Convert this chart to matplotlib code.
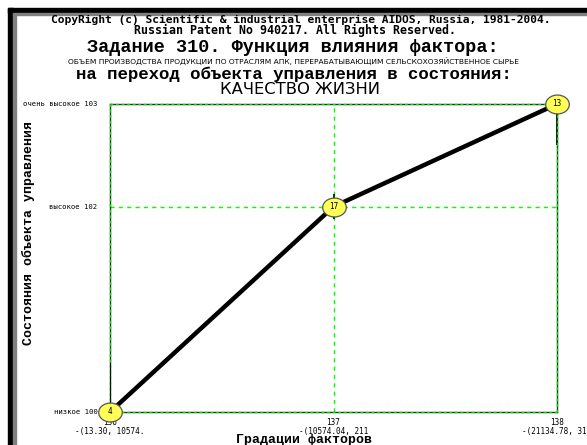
import matplotlib
matplotlib.use("Agg")
import matplotlib.pyplot as plt
from matplotlib.patches import Rectangle
from matplotlib.path import Path
from matplotlib.transforms import Affine2D

# ---- data ----
x_grad = [136, 137, 138]
y_state = [100, 102, 103]
point_labels = ["4", "17", "13"]
err_half = [0.48, 0.12, 0.40]
x_tick_labels = ["136\n-(13.30, 10574.", "137\n-(10574.04, 211", "138\n-(21134.78, 316"]
y_ticks = [100, 102, 103]
y_tick_labels = ["низкое 100", "высокое 102", "очень высокое 103"]
title_lines = [
    "CopyRight (c) Scientific & industrial enterprise AIDOS, Russia, 1981-2004.",
    "Russian Patent No 940217. All Rights Reserved.",
    "Задание 310. Функция влияния фактора:",
    "ОБЪЕМ ПРОИЗВОДСТВА ПРОДУКЦИИ ПО ОТРАСЛЯМ АПК, ПЕРЕРАБАТЫВАЮЩИМ СЕЛЬСКОХОЗЯЙСТВЕННОЕ СЫРЬЕ",
    "на переход объекта управления в состояния:",
    "КАЧЕСТВО ЖИЗНИ",
]
x_label = "Градации факторов"
y_label = "Состояния объекта управления"

W, H = 587, 445
fig = plt.figure(figsize=(W / 100, H / 100), dpi=100)
fig.patch.set_facecolor("white")

def fx(px):
    return px / W

def fy(py):
    return 1 - py / H

# window frame (left and top bars)
fig.patches.append(Rectangle((fx(8), 0), fx(5), fy(8), transform=fig.transFigure, color="black", zorder=0))
fig.patches.append(Rectangle((fx(13), 0), fx(3), fy(13), transform=fig.transFigure, color="#808080", zorder=0))
fig.patches.append(Rectangle((fx(8), fy(13)), 1, 5 / H, transform=fig.transFigure, color="black", zorder=0))
fig.patches.append(Rectangle((fx(13), fy(15)), 1, 2 / H, transform=fig.transFigure, color="#808080", zorder=0))

ax = fig.add_axes([fx(110), fy(412), fx(557) - fx(110), (412 - 104) / H])
ax.set_xlim(x_grad[0], x_grad[-1])
ax.set_ylim(100, 103)
ax.set_facecolor("white")

for s in ax.spines.values():
    s.set_color("#1a3a1a")
    s.set_linewidth(1.0)

# dashed green border overlay
for xv in (x_grad[0], x_grad[-1]):
    ax.axvline(xv, color="#00e000", lw=1.0, ls=(0, (2, 2)), clip_on=False, zorder=3)
for yv in (100, 103):
    ax.axhline(yv, color="#00e000", lw=1.0, ls=(0, (2, 2)), clip_on=False, zorder=3)

# grid lines
ax.axvline(x_grad[1], color="#00ff00", lw=1.0, ls=(0, (3, 3)), zorder=1)
ax.axhline(102, color="#00ff00", lw=1.0, ls=(0, (3, 3)), zorder=1)

# error bars (clipped by the axes)
ax.vlines(x_grad, [y - e for y, e in zip(y_state, err_half)],
          [y + e for y, e in zip(y_state, err_half)], color="black", lw=1.2, zorder=3.5)

# main line
ax.plot(x_grad, y_state, color="black", lw=3.2, zorder=4, clip_on=False, solid_capstyle="round")

# elliptical markers
ell = Path.unit_circle().transformed(Affine2D().scale(1.25, 1.0))
ax.plot(x_grad, y_state, ls="none", marker=ell, markersize=17, markerfacecolor="#ffff55",
        markeredgecolor="#555555", markeredgewidth=0.9, zorder=5, clip_on=False)
for xv, yv, lab in zip(x_grad, y_state, point_labels):
    ax.text(xv, yv, lab, ha="center", va="center", fontsize=5.5, family="DejaVu Sans Mono",
            zorder=6, clip_on=False)

ax.set_xticks(x_grad)
ax.set_xticklabels(x_tick_labels, fontsize=5.5, family="DejaVu Sans Mono", linespacing=1.0)
ax.set_yticks(y_ticks)
ax.set_yticklabels(y_tick_labels, fontsize=5.2, family="DejaVu Sans Mono")
ax.tick_params(axis="both", length=0)
ax.tick_params(axis="x", pad=4)
ax.tick_params(axis="y", pad=9)

# titles
title_specs = [
    (20, 8.1, "DejaVu Sans Mono", "bold", 301),
    (30, 8.4, "DejaVu Sans Mono", "bold", 295),
    (48, 13.3, "Liberation Mono", "bold", 293),
    (61, 5.4, "DejaVu Sans", "normal", 293),
    (74, 12.5, "Liberation Mono", "bold", 294),
    (89, 11.8, "DejaVu Sans", "normal", 300),
]
for txt, (py, fs, fam, fw, px) in zip(title_lines, title_specs):
    fig.text(fx(px), fy(py), txt, ha="center", va="center", fontsize=fs, family=fam, fontweight=fw)

fig.text(fx(304), fy(440), x_label, ha="center", va="center", fontsize=9.5,
         family="Liberation Mono", fontweight="bold")
fig.text(fx(28), fy(233), y_label, ha="center", va="center", rotation=90, fontsize=9.5,
         family="Liberation Mono", fontweight="bold")

fig.savefig("out.png", dpi=100, facecolor="white")
